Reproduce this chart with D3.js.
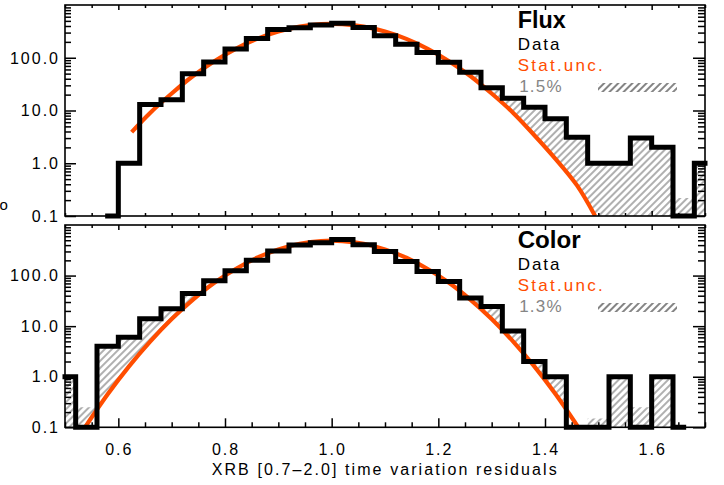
<!DOCTYPE html>
<html><head><meta charset="utf-8">
<script src="https://cdn.jsdelivr.net/npm/d3@7"></script>
<style>body{margin:0;background:#fff}svg{display:block}</style>
</head><body>
<svg id="c" width="724" height="485"></svg>
<script>
// ---------- data ----------
const fluxCenters = [0.58,0.62,0.66,0.70,0.74,0.78,0.82,0.86,0.90,0.94,0.98,1.02,1.06,1.10,1.14,1.18,1.22,1.26,1.30,1.34,1.38,1.42,1.46,1.50,1.54,1.58,1.62,1.66,1.70];
const fluxCounts  = [0,1,13,16,50,83,146,232,345,370,418,450,373,260,181,126,82,53,27,17,11.5,7,3.1,1,1,3,2,0,1];
const fluxHatch   = [0,0,0,0,0,0,0,0,0,0,0,0,0,0,0,0,82,53,27,17,11.5,7,3.1,1,1,3,2,0.22,1];
const fluxCurveX  = [0.625,0.66,0.70,0.74,0.78,0.82,0.86,0.90,0.94,0.98,1.02,1.06,1.10,1.14,1.18,1.22,1.26,1.30,1.34,1.38,1.42,1.46,1.494];
const fluxCurveY  = [3.9,9.1,21,45,86,148,228,314,390,434,434,390,314,228,148,86,45,21,9.1,3.4,1.2,0.38,0.1];

const colorCenters = [0.50,0.54,0.58,0.62,0.66,0.70,0.74,0.78,0.82,0.86,0.90,0.94,0.98,1.02,1.06,1.10,1.14,1.18,1.22,1.26,1.30,1.34,1.38,1.42,1.46,1.50,1.54,1.58,1.62,1.66];
const colorCounts  = [1,0,4,6,14,22,44,79,124,200,305,402,446,519,405,300,190,120,76,36,24.5,8,2,1,0,0,1,0,1,0];
const colorHatch   = [1,0.25,4,6,14,22,44,79,124,200,305,402,446,519,405,300,190,120,76,36,24.5,8,2,1,0,0.15,1,0.25,1,0];
const colorCurveX  = [0.5375,0.58,0.62,0.66,0.70,0.74,0.78,0.82,0.86,0.90,0.94,0.98,1.02,1.06,1.10,1.14,1.18,1.22,1.26,1.30,1.34,1.38,1.42,1.4625];
const colorCurveY  = [0.1,0.45,1.6,5,13.8,33.5,72,135,225,329,425,482,482,425,329,225,135,72,33.5,13.8,5,1.6,0.45,0.1];

const xTickValues = [0.6,0.8,1.0,1.2,1.4,1.6];
const xTickLabels = ["0.6","0.8","1.0","1.2","1.4","1.6"];
const yTickValues = [0.1,1,10,100];
const yTickLabels = ["0.1","1.0","10.0","100.0"];
const panelTitles = ["Flux","Color"];
const sysLabels   = ["1.5%","1.3%"];
const xTitle = "XRB [0.7\u20132.0] time variation residuals";

// ---------- drawing ----------
const ORANGE = "#ff4d00", GRAY = "#858585";
const FONT = "'Liberation Sans', Arial, Helvetica, sans-serif";
const svg = d3.select("#c");
const x = d3.scaleLinear().domain([0.5, 1.7]).range([65, 705]);
const HALF = 0.02;

const defs = svg.append("defs");
const pat = defs.append("pattern").attr("id","hatch").attr("patternUnits","userSpaceOnUse")
  .attr("width",5).attr("height",5).attr("patternTransform","rotate(45)");
pat.append("line").attr("x1",1).attr("y1",0).attr("x2",1).attr("y2",5)
  .attr("stroke",GRAY).attr("stroke-width",1.3);
const patL = defs.append("pattern").attr("id","hatchL").attr("patternUnits","userSpaceOnUse")
  .attr("width",5).attr("height",5).attr("patternTransform","rotate(45)");
patL.append("line").attr("x1",1).attr("y1",0).attr("x2",1).attr("y2",5)
  .attr("stroke",GRAY).attr("stroke-width",2);

const panels = [
  {title:panelTitles[0], top:5, bottom:216, centers:fluxCenters, counts:fluxCounts, hatch:fluxHatch, cx:fluxCurveX, cy:fluxCurveY, sys:sysLabels[0], last:false},
  {title:panelTitles[1], top:225, bottom:427.3, centers:colorCenters, counts:colorCounts, hatch:colorHatch, cx:colorCurveX, cy:colorCurveY, sys:sysLabels[1], last:true}
];

panels.forEach((p, pi) => {
  const y = d3.scaleLog().domain([0.1, 1000]).range([p.bottom, p.top]);
  const Y = v => (v <= 0.1 ? p.bottom : y(v));
  const g = svg.append("g");

  defs.append("clipPath").attr("id","panel"+pi).append("rect")
    .attr("x",x(0.5)).attr("y",p.top).attr("width",x(1.7)-x(0.5)).attr("height",p.bottom-p.top);

  // step points (IDL psym=10 style)
  function steps(centers, vals){
    const pts = [[x(centers[0]), Y(vals[0])]];
    for (let i = 0; i < centers.length - 1; i++) {
      const b = x(centers[i] + HALF);
      pts.push([b, Y(vals[i])]); pts.push([b, Y(vals[i+1])]);
    }
    pts.push([x(centers[centers.length-1]), Y(vals[vals.length-1])]);
    return pts;
  }

  // clip: area under hatch step envelope
  const hp = steps(p.centers, p.hatch);
  const hpoly = [[hp[0][0], p.bottom], ...hp, [hp[hp.length-1][0], p.bottom]];
  defs.append("clipPath").attr("id","hstep"+pi).append("path")
    .attr("d", d3.line()(hpoly) + "Z");

  // region above the stat curve
  const curvePts = p.cx.map((v,i)=>[x(v), y(p.cy[i])]);
  const path = d3.path();
  d3.line().curve(d3.curveCatmullRom).context(path)(curvePts);
  const L = x(0.5) - 10, R = x(1.7) + 10;
  const last = curvePts[curvePts.length-1];
  path.lineTo(last[0], p.bottom + 5);
  path.lineTo(R, p.bottom + 5); path.lineTo(R, p.top - 5);
  path.lineTo(L, p.top - 5); path.lineTo(L, p.bottom + 5);
  path.lineTo(curvePts[0][0], p.bottom + 5);
  path.closePath();

  g.append("g").attr("clip-path","url(#panel"+pi+")")
   .append("g").attr("clip-path","url(#hstep"+pi+")")
   .append("path").attr("d", path.toString()).attr("fill","url(#hatch)");

  // stat curve
  g.append("g").attr("clip-path","url(#panel"+pi+")")
   .append("path").attr("d", d3.line().curve(d3.curveCatmullRom)(curvePts))
   .attr("fill","none").attr("stroke",ORANGE).attr("stroke-width",4.2);

  // data histogram
  g.append("path").attr("d", d3.line()(steps(p.centers, p.counts)))
   .attr("fill","none").attr("stroke","#000").attr("stroke-width",5)
   .attr("stroke-linejoin","miter").attr("stroke-linecap","square");

  // frame
  g.append("rect").attr("x",x(0.5)).attr("y",p.top).attr("width",x(1.7)-x(0.5)).attr("height",p.bottom-p.top)
   .attr("fill","none").attr("stroke","#000").attr("stroke-width",1.6);

  // y ticks (inward, both sides)
  const minorY = y.ticks().filter(v => !yTickValues.some(t => Math.abs(t - v) < 1e-9) && v < 1000);
  const addAxis = (gen, tx, ty) => {
    const a = g.append("g").attr("transform",`translate(${tx},${ty})`).call(gen);
    a.select(".domain").remove();
    a.selectAll("line").attr("stroke","#000").attr("stroke-width",1.5);
    a.selectAll("text").remove();
  };
  addAxis(d3.axisRight(y).tickValues(yTickValues).tickSize(11), x(0.5), 0);
  addAxis(d3.axisRight(y).tickValues(minorY).tickSize(6), x(0.5), 0);
  addAxis(d3.axisLeft(y).tickValues(yTickValues).tickSize(12), x(1.7), 0);
  addAxis(d3.axisLeft(y).tickValues(minorY).tickSize(7), x(1.7), 0);

  // x ticks (inward)
  const minorX = x.ticks(24).filter(v => !xTickValues.some(t => Math.abs(t - v) < 1e-9));
  const bigB = p.last ? 9 : 5, smallB = p.last ? 5 : 3;
  addAxis(d3.axisTop(x).tickValues(xTickValues).tickSize(bigB), 0, p.bottom);
  addAxis(d3.axisTop(x).tickValues(minorX).tickSize(smallB), 0, p.bottom);
  addAxis(d3.axisBottom(x).tickValues(xTickValues).tickSize(5), 0, p.top);
  addAxis(d3.axisBottom(x).tickValues(minorX).tickSize(3), 0, p.top);

  // y labels
  g.selectAll(".yl").data(yTickValues).join("text")
   .attr("x", 60).attr("y", d => y(d)).attr("dy","0.36em")
   .attr("text-anchor","end").attr("font-family",FONT).attr("font-size",16)
   .attr("letter-spacing","2px").attr("fill","#000")
   .text((d,i) => yTickLabels[i]);

  // legend
  const lx = 517.7, base = p.top;
  g.append("text").attr("x",lx).attr("y",base+23.3).attr("font-family",FONT).attr("font-weight","bold")
   .attr("font-size",23).attr("textLength", pi===0 ? 48 : 63).attr("lengthAdjust","spacingAndGlyphs").text(p.title);
  g.append("text").attr("x",lx).attr("y",base+45).attr("font-family",FONT).attr("font-size",17)
   .attr("textLength",41.7).attr("lengthAdjust","spacing").text("Data");
  g.append("text").attr("x",lx).attr("y",base+65.5).attr("font-family",FONT).attr("font-size",17)
   .attr("fill",ORANGE).attr("textLength",85).attr("lengthAdjust","spacing").text("Stat.unc.");
  g.append("text").attr("x",lx+1.5).attr("y",base+86.5).attr("font-family",FONT).attr("font-size",17)
   .attr("fill",GRAY).attr("textLength",42.4).attr("lengthAdjust","spacing").text(p.sys);
  g.append("rect").attr("x",598).attr("y",base+78).attr("width",79).attr("height",9)
   .attr("fill","url(#hatchL)");

  if (p.last) {
    g.selectAll(".xl").data(xTickValues).join("text")
     .attr("x", d => x(d) + 1).attr("y", 455).attr("text-anchor","middle")
     .attr("font-family",FONT).attr("font-size",16).attr("letter-spacing","2px")
     .text((d,i) => xTickLabels[i]);
    g.append("text").attr("x",211.7).attr("y",475).attr("font-family",FONT).attr("font-size",16)
     .attr("textLength",345).attr("lengthAdjust","spacing").text(xTitle);
  }
});

// stray glyph at the left edge of the reference
svg.append("text").attr("x",-0.5).attr("y",210).attr("font-family",FONT).attr("font-size",15).text("o");
</script>
</body></html>
